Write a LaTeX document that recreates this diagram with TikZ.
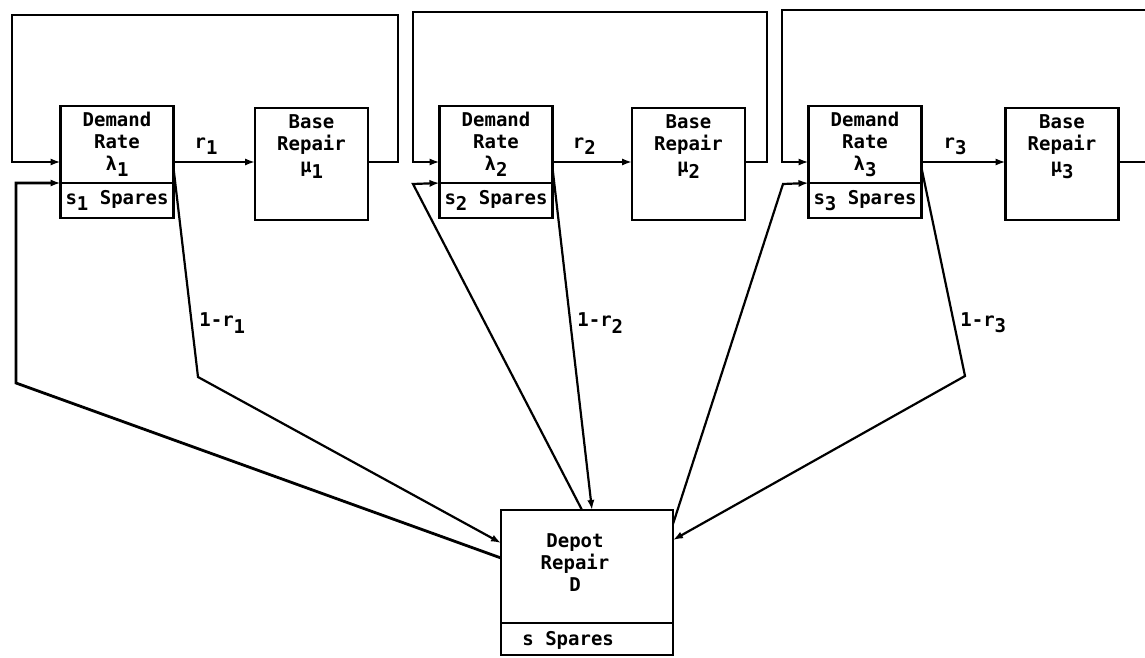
\documentclass[tikz,border=0pt]{standalone}
\usepackage{fontspec}
\setmainfont{DejaVu Sans Mono}
\usetikzlibrary{arrows.meta}
\newcommand\sub[1]{\raisebox{-0.6ex}{#1}}

\begin{document}
\begin{tikzpicture}[x=0.5pt,y=-0.5pt,>={Latex[length=5pt,width=3.6pt]},
  box/.style={draw,line width=1.3pt,inner sep=0pt,outer sep=0pt,minimum width=56.5pt},
  txt/.style={align=center,inner sep=0pt,font=\fontsize{9.5}{11}\selectfont\bfseries},
  wire/.style={line width=1.4pt},
  leg/.style={line width=1.1pt}]
\useasboundingbox (0,0) rectangle (1145,658);
% the three bases: demand box, spares, base repair and the loop round them
\foreach \i/\dx/\bx/\lx/\rx/\ty in {1/117/311.5/12/398/15,2/496/688.5/413/767/12,3/865/1062/782/1160/10} {
  \node[box,txt,minimum height=38.5pt] (dem\i) at (\dx,144.5) {Demand\\Rate\\λ\sub{\i}};
  \node[box,txt,minimum height=17.5pt,anchor=north] (spa\i) at (dem\i.south) {s\sub{\i} Spares};
  \node[box,minimum height=56pt] (base\i) at (\bx,164) {};
  \node[txt,anchor=north] (bt\i) at ([yshift=-3pt]base\i.north) {Base\\Repair\\μ\sub{\i}};
  \draw[wire,->] (base\i.east |- 0,162) -- (\rx,162) -- (\rx,\ty) -- (\lx,\ty) -- (\lx,162) -- (dem\i.west |- 0,162);
  \draw[wire,->] (dem\i.east |- 0,162) -- node[txt,above=3pt,pos=0.4] (r\i) {r\sub{\i}} (base\i.west |- 0,162);
}
% depot
\node[box,minimum width=86pt,minimum height=56.5pt] (dep) at (587,566.5) {};
\node[box,minimum width=86pt,minimum height=16pt,anchor=north] (dsp) at (dep.south) {};
\node[txt] (dt) at (575,563) {Depot\\Repair\\D};
\node[txt,anchor=west] (st) at (522,640) {s Spares};
% to the depot
\draw[leg,->] (dem1.east |- 0,168) -- (198,377) -- (dep.west |- 0,543);
\node[txt,anchor=west] (q1) at (199,323) {1-r\sub{1}};
\draw[leg,->] (dem2.east |- 0,168) -- (dep.north -| 592,0);
\node[txt,anchor=west] (q2) at (577,323) {1-r\sub{2}};
\draw[leg,->] (dem3.east |- 0,168) -- (965,376) -- (dep.east |- 0,540);
\node[txt,anchor=west] (q3) at (960,323) {1-r\sub{3}};
% spares back to the bases
\draw[wire,->] (dep.west |- 0,558) -- (16,383) -- (spa1.north west -| 16,0) -- (spa1.north west);
\draw[leg,->] (dep.north -| 582,0) -- (413,184) -- (spa2.north west);
\draw[leg,->] (dep.east |- 0,524) -- (783,184) -- (spa3.north west);
\end{tikzpicture}
\end{document}
